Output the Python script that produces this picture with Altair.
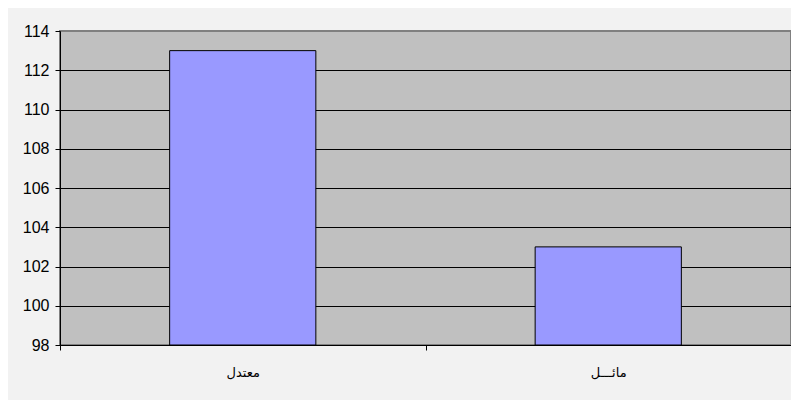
import altair as alt
import pandas as pd

categories = ["معتدل", "مائـــل"]
values = [113, 103]
y_ticks = [98, 100, 102, 104, 106, 108, 110, 112, 114]
y_min, y_max = 98, 114

df = pd.DataFrame({"cat": categories, "val": values, "base": [y_min] * len(values)})

x_enc = alt.X(
    "cat:N",
    sort=categories,
    scale=alt.Scale(paddingInner=0, paddingOuter=0),
    axis=alt.Axis(
        title=None, labelAngle=0, labelFontSize=13, labelFont="Arial, Liberation Sans, DejaVu Sans",
        labelColor="black", labelPadding=16, tickBand="extent", tickSize=5,
        tickColor="black", domainColor="black", domainWidth=1,
    ),
)

y_enc = alt.Y(
    "val:Q",
    scale=alt.Scale(domain=[y_min, y_max], zero=False, nice=False),
    axis=alt.Axis(
        title=None, values=y_ticks, labelFontSize=16, labelFont="Arial, Liberation Sans",
        labelColor="black", labelPadding=6, tickSize=5, tickColor="black",
        domainColor="black", grid=True,
        gridColor={"condition": {"test": "datum.value == 114", "value": "#808080"}, "value": "black"},
        gridOpacity=1, gridWidth=1,
    ),
)

bars = alt.Chart(df).mark_bar(
    color="#9999FF", stroke="black", strokeWidth=1, width=alt.RelativeBandSize(0.4)
).encode(x=x_enc, y=y_enc, y2="base:Q")

chart = bars.properties(
    width=731, height=314,
    autosize=alt.AutoSizeParams(type="none"),
    padding={"left": 52, "top": 23, "right": 0, "bottom": 55},
    background="#F2F2F2",
).configure_view(fill="#C0C0C0", stroke="#808080", strokeWidth=2)

chart.save("out.html", embed_options={"renderer": "svg", "actions": False})
